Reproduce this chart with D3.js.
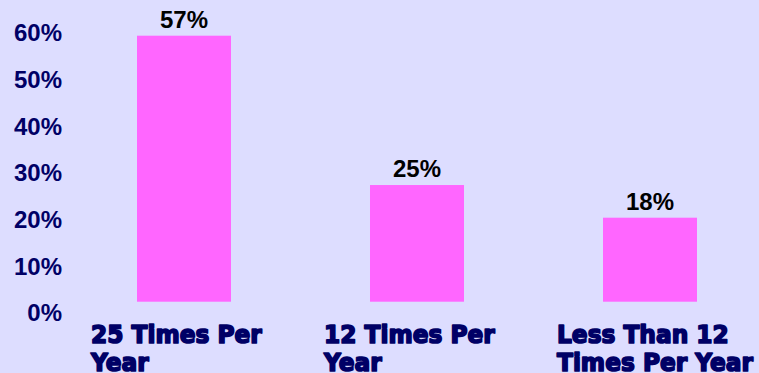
<!DOCTYPE html>
<html>
<head>
<meta charset="utf-8">
<script src="https://cdn.jsdelivr.net/npm/d3@7"></script>
<style>
  html, body { margin: 0; padding: 0; background: #DDDDFF; overflow: hidden; }
  svg { display: block; }
</style>
</head>
<body>
<svg id="chart" width="759" height="373"></svg>
<script>
const categories = ["25 Times Per Year", "12 Times Per Year", "Less Than 12 Times Per Year"];
const categoryLines = [["25 Times Per", "Year"], ["12 Times Per", "Year"], ["Less Than 12", "Times Per Year"]];
const values = [57, 25, 18];
const tickValues = [0, 10, 20, 30, 40, 50, 60];
const tickLabels = ["0%", "10%", "20%", "30%", "40%", "50%", "60%"];

const svg = d3.select("#chart");
svg.append("rect").attr("width", 759).attr("height", 373).attr("fill", "#DDDDFF");

const pi = 1 - 94 / 233;
const x = d3.scaleBand().domain(categories).range([67.5, 766.5]).paddingInner(pi).paddingOuter(pi / 2);
const y = d3.scaleLinear().domain([0, 60]).range([301.7, 21.7]);

// Y axis
const yAxis = d3.axisLeft(y).tickValues(tickValues).tickSize(0)
  .tickFormat((d, i) => tickLabels[i]);
const gy = svg.append("g").attr("transform", "translate(62,0)").call(yAxis);
gy.select(".domain").remove();
gy.selectAll("text")
  .attr("x", 0)
  .attr("dy", 19)
  .attr("text-anchor", "end")
  .attr("fill", "#000066")
  .style("font-family", "'Liberation Sans', Arial, sans-serif")
  .style("font-weight", "bold")
  .style("font-size", "24px");

// Bars
svg.append("g").selectAll("rect").data(categories).join("rect")
  .attr("x", d => x(d))
  .attr("y", (d, i) => y(values[i]))
  .attr("width", x.bandwidth())
  .attr("height", (d, i) => y(0) - y(values[i]))
  .attr("fill", "#FF66FF");

// Value labels
svg.append("g").selectAll("text").data(categories).join("text")
  .attr("x", d => x(d) + x.bandwidth() / 2)
  .attr("y", (d, i) => y(values[i]) - 8)
  .attr("text-anchor", "middle")
  .attr("fill", "#000000")
  .style("font-family", "'Liberation Sans', Arial, sans-serif")
  .style("font-weight", "bold")
  .style("font-size", "24px")
  .text((d, i) => values[i] + "%");

// Category labels
const cg = svg.append("g").selectAll("text").data(categories).join("text")
  .attr("transform", d => `translate(${x(d) + x.bandwidth() / 2 - 93},343) scale(1,1.08)`)
  .attr("text-anchor", "start")
  .attr("fill", "#000066")
  .attr("stroke", "#000066")
  .attr("stroke-width", 1.6)
  .attr("stroke-linejoin", "round")
  .style("font-family", "'DejaVu Sans', sans-serif")
  .style("font-weight", "bold")
  .style("font-size", "23.3px");
cg.each(function(d, i) {
  const t = d3.select(this);
  categoryLines[i].forEach((line, j) => {
    t.append("tspan").attr("x", 0).attr("dy", j === 0 ? 0 : 26.3).text(line);
  });
});
</script>
</body>
</html>
